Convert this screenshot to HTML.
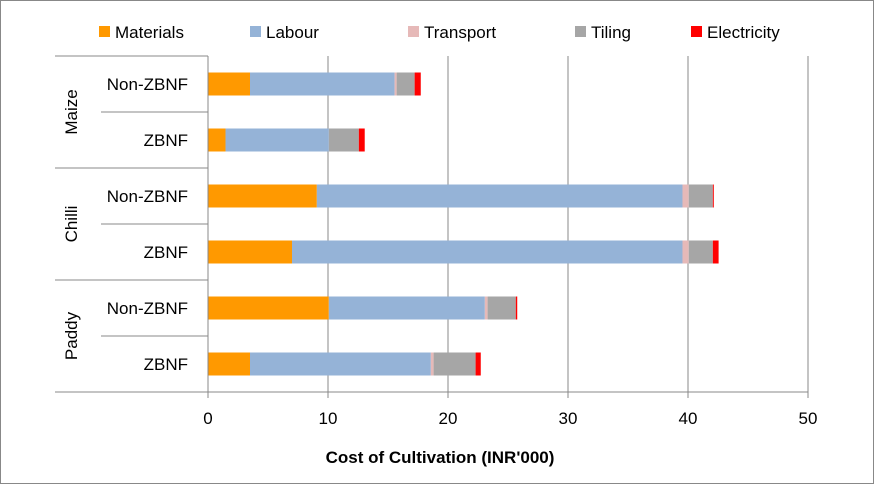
<!DOCTYPE html>
<html><head><meta charset="utf-8"><style>
body{margin:0;background:#fff;font-family:"Liberation Sans",Arial,sans-serif;}
svg text{font-family:"Liberation Sans",Arial,sans-serif;}
</style></head><body>
<svg id="chart" width="874" height="484" xmlns="http://www.w3.org/2000/svg">
<rect x="0.5" y="0.5" width="873" height="483" fill="#fff" stroke="#888"/>
<g id="legend"></g>
<g id="grid"></g>
<g id="bars"></g>
<g id="axes"></g>
<text x="440" y="463" text-anchor="middle" font-size="17" font-weight="bold" fill="#000">Cost of Cultivation (INR'000)</text>
</svg>
<script>
const categories = ["Non-ZBNF","ZBNF","Non-ZBNF","ZBNF","Non-ZBNF","ZBNF"];
const groups = ["Maize","Chilli","Paddy"];
const seriesNames = ["Materials","Labour","Transport","Tiling","Electricity"];
const materials = [3.5, 1.46, 9.07, 7.0, 10.07, 3.5];
const labour = [12.05, 8.61, 30.47, 32.54, 13.0, 15.07];
const transport = [0.17, 0, 0.52, 0.52, 0.23, 0.23];
const tiling = [1.5, 2.5, 2.01, 2.01, 2.35, 3.5];
const electricity = [0.51, 0.49, 0.08, 0.48, 0.12, 0.43];
const xTicks = [0,10,20,30,40,50];
const colors = ["#ff9900","#95b3d7","#e6b9b8","#a6a6a6","#ff0000"];
const NS="http://www.w3.org/2000/svg";
const X0=208,X1=808,Y0=56,ROW=56;
function xs(v){return X0+(v/50)*(X1-X0);}
function mk(t,a,p){const e=document.createElementNS(NS,t);for(const k in a)e.setAttribute(k,a[k]);p.appendChild(e);return e;}
const grid=document.getElementById('grid'),bars=document.getElementById('bars'),axes=document.getElementById('axes'),legend=document.getElementById('legend');
xTicks.forEach(t=>{
  if(t>0){const l=mk('line',{x1:xs(t),x2:xs(t),y1:Y0,y2:392,stroke:'#888','stroke-width':1},grid);
  
  }
  const tx=mk('text',{x:xs(t),y:424,'text-anchor':'middle','font-size':17,fill:'#000'},axes);tx.textContent=t;
  
  
  const tk=mk('line',{x1:xs(t),x2:xs(t),y1:392,y2:398,stroke:'#888'},axes);
  
  
});
const series=[materials,labour,transport,tiling,electricity];
categories.forEach((c,i)=>{
  let acc=0;const cy=Y0+ROW*i+ROW/2;
  series.forEach((s,j)=>{
    const v=s[i];if(v<=0){return;}
    const r=mk('rect',{x:xs(acc),y:cy-11.5,width:xs(acc+v)-xs(acc),height:23,fill:colors[j]},bars);
    
    
    acc+=v;
  });
  const lb=mk('text',{x:188,y:cy+6,'text-anchor':'end','font-size':17,fill:'#000'},axes);lb.textContent=c;
  
  
});
let a=mk('line',{x1:X0,x2:X0,y1:Y0,y2:398,stroke:'#888'},axes);

a=mk('line',{x1:55,x2:X1,y1:392,y2:392,stroke:'#888'},axes);

a=mk('line',{x1:55,x2:X0,y1:Y0,y2:Y0,stroke:'#888'},axes);

for(let i=1;i<6;i++){const y=Y0+ROW*i;const x1=(i%2===0)?55:101;
  const l=mk('line',{x1:x1,x2:X0,y1:y,y2:y,stroke:'#888'},axes);
  
  }
groups.forEach((g,k)=>{const cy=Y0+ROW*(2*k+1);
  const t=mk('text',{x:0,y:0,'text-anchor':'middle','font-size':17,fill:'#000',transform:`translate(77,${cy}) rotate(-90)`},axes);t.textContent=g;
  
  });
const lx=[99,250,408,575,691];
seriesNames.forEach((n,j)=>{
  const r=mk('rect',{x:lx[j],y:26,width:11,height:11,fill:colors[j]},legend);
  
  
  const t=mk('text',{x:lx[j]+16,y:38,'font-size':17,fill:'#000'},legend);t.textContent=n;
  
  
});
</script>
</body></html>
